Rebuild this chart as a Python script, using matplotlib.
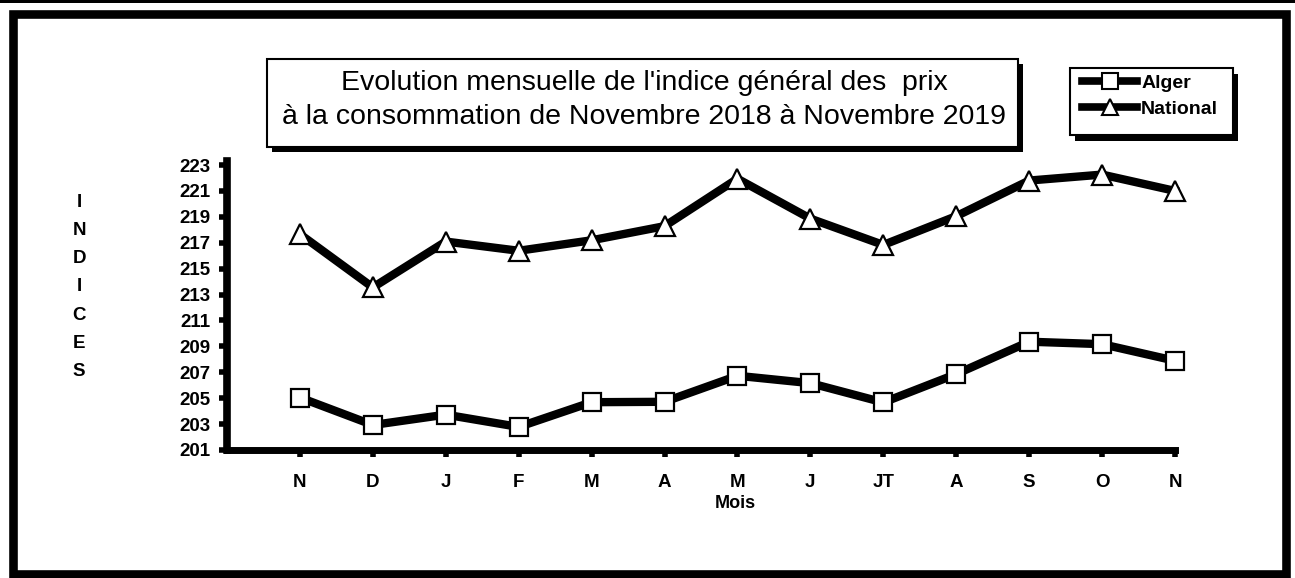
import matplotlib
matplotlib.use("Agg")
import matplotlib.pyplot as plt
from matplotlib.patches import Rectangle
from matplotlib.lines import Line2D

months = ["N", "D", "J", "F", "M", "A", "M", "J", "JT", "A", "S", "O", "N"]
alger = [205.05, 202.93, 203.73, 202.78, 204.69, 204.72, 206.73, 206.16, 204.67, 206.86, 209.36, 209.17, 207.89]
national = [217.66, 213.55, 217.09, 216.38, 217.19, 218.28, 221.94, 218.86, 216.83, 219.05, 221.8, 222.26, 221.0]
yticks = list(range(201, 224, 2))
title_lines = ["Evolution mensuelle de l'indice général des  prix",
               "à la consommation de Novembre 2018 à Novembre 2019"]

W, H = 1295, 578
plt.rcParams['font.family'] = ['Liberation Sans', 'DejaVu Sans']
fig = plt.figure(figsize=(W / 100, H / 100), dpi=100)
fig.patch.set_facecolor('white')

def fx(x):
    return x / W

def fy(y):
    return 1 - y / H

# Outer frame
fig.patches.append(Rectangle((fx(0), fy(3)), 1, 3 / H, transform=fig.transFigure,
                             facecolor='black', edgecolor='none', zorder=1))
fig.patches.append(Rectangle((fx(12.5), fy(574)), (1286 - 12.5) / W, (574 - 14) / H,
                             transform=fig.transFigure, facecolor='none',
                             edgecolor='black', linewidth=6.2, zorder=1))

# Axes
ax = fig.add_axes([fx(227), fy(450), fx(1175) - fx(227), fy(165) - fy(450)])
ax.patch.set_visible(False)
x = list(range(len(months)))
ax.plot(x, alger, color='black', linewidth=6, marker='s', markersize=13.5,
        markerfacecolor='white', markeredgecolor='black', markeredgewidth=1.6,
        solid_joinstyle='miter', zorder=3, clip_on=False)
ax.plot(x, national, color='black', linewidth=6, marker='^', markersize=14.5,
        markerfacecolor='white', markeredgecolor='black', markeredgewidth=1.6,
        solid_joinstyle='miter', zorder=3, clip_on=False)
ax.set_xlim(-1, 12)
ax.set_ylim(201, 223)
ax.set_yticks(yticks)
ax.set_yticklabels([str(v) for v in yticks])
ax.set_xticks(x)
ax.set_xticklabels(months)
for side in ['top', 'right']:
    ax.spines[side].set_visible(False)
ax.spines['left'].set_linewidth(5.5)
ax.spines['left'].set_bounds(201, 223.3)
ax.spines['bottom'].set_linewidth(5)
ax.tick_params(axis='y', direction='out', length=6, width=4, pad=6, labelsize=13.5)
ax.tick_params(axis='x', direction='out', length=5, width=4, pad=12, labelsize=13.5)
for lab in ax.get_xticklabels() + ax.get_yticklabels():
    lab.set_fontweight('bold')
ax.set_xlabel("Mois", fontsize=13, fontweight='bold', labelpad=0)
ax.xaxis.set_label_coords(fx(735), 0, transform=fig.transFigure)
ax.xaxis.label.set_position((fx(735), fy(503)))
ax.xaxis.label.set_verticalalignment('center')

# Vertical stacked y label
fig.text(fx(79), fy(287), "\n".join("INDICES"), ha='center', va='center',
         fontsize=13.5, fontweight='bold', linespacing=1.85)

# Title box with shadow
bx0, by0, bx1, by1 = 267, 59, 1018, 147
fig.patches.append(Rectangle((fx(bx0 + 5), fy(by1 + 5)), (bx1 - bx0) / W, (by1 - by0) / H,
                             transform=fig.transFigure, facecolor='black',
                             edgecolor='black', linewidth=0, zorder=2))
fig.patches.append(Rectangle((fx(bx0), fy(by1)), (bx1 - bx0) / W, (by1 - by0) / H,
                             transform=fig.transFigure, facecolor='white',
                             edgecolor='black', linewidth=1.5, zorder=3))
fig.text(fx((bx0 + bx1) / 2 + 2), fy(83), title_lines[0], ha='center', va='center',
         fontsize=20.5, zorder=4)
fig.text(fx((bx0 + bx1) / 2 + 2), fy(117), title_lines[1], ha='center', va='center',
         fontsize=20.5, zorder=4)

# Legend box with shadow
lx0, ly0, lx1, ly1 = 1070, 68, 1233, 135
fig.patches.append(Rectangle((fx(lx0 + 5), fy(ly1 + 6)), (lx1 - lx0) / W, (ly1 - ly0) / H,
                             transform=fig.transFigure, facecolor='black',
                             edgecolor='black', linewidth=0, zorder=2))
fig.patches.append(Rectangle((fx(lx0), fy(ly1)), (lx1 - lx0) / W, (ly1 - ly0) / H,
                             transform=fig.transFigure, facecolor='white',
                             edgecolor='black', linewidth=1.5, zorder=3))
handles = [Line2D([], [], color='black', linewidth=5.5, marker='s', markersize=11,
                  markerfacecolor='white', markeredgecolor='black', markeredgewidth=1.5),
           Line2D([], [], color='black', linewidth=5.5, marker='^', markersize=11,
                  markerfacecolor='white', markeredgecolor='black', markeredgewidth=1.5)]
leg = fig.legend(handles, ["Alger", "National"], loc='upper left',
                 bbox_to_anchor=(fx(1080), fy(72)), frameon=False,
                 prop={'weight': 'bold', 'size': 14}, handlelength=2.85,
                 handletextpad=0.2, labelspacing=0.45, borderpad=0.1,
                 borderaxespad=0)
leg.set_zorder(5)

fig.savefig("out.png", dpi=100)
